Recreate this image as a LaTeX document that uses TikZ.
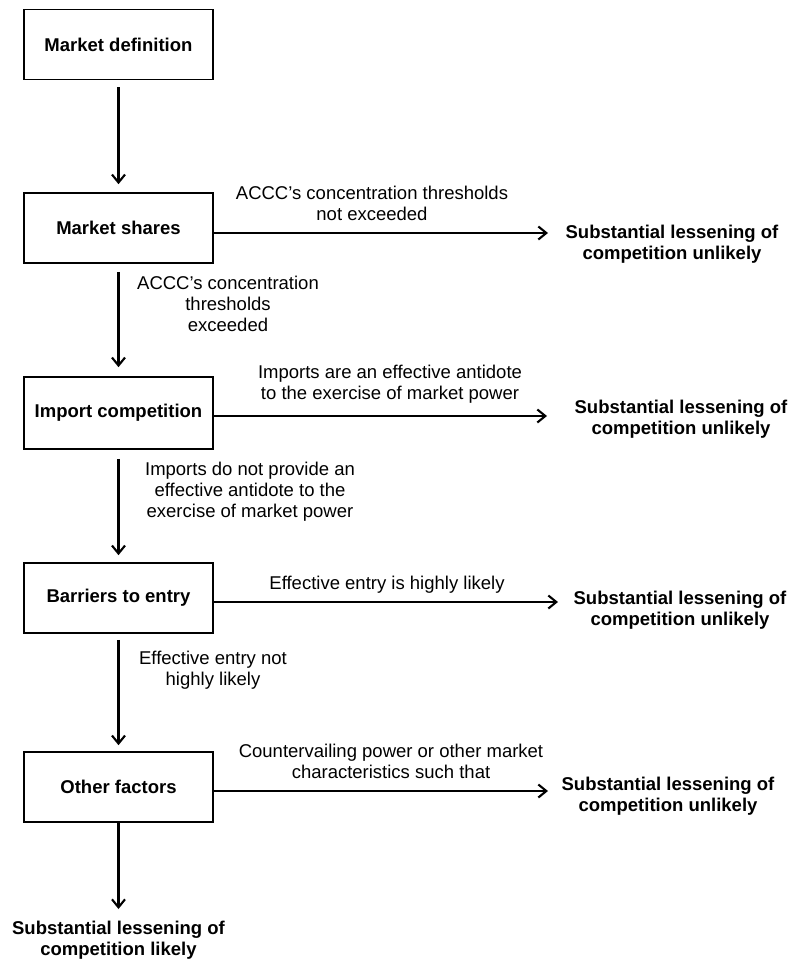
\documentclass[tikz,border=0pt]{standalone}
\usepackage{fontspec}
\setmainfont{Liberation Sans}
\usetikzlibrary{arrows.meta}
\begin{document}
\begin{tikzpicture}[x=1pt,y=-1pt,
  every node/.style={font=\fontsize{18.5}{21}\selectfont, inner sep=0pt},
  stepbox/.style={draw, line width=1.6pt, minimum width=189pt, minimum height=70pt, font=\fontsize{18.5}{21}\selectfont\bfseries},
  result/.style={align=center, font=\fontsize{18.5}{21}\selectfont\bfseries},
  lbl/.style={align=center},
  arr/.style={line width=2.1pt, -{Straight Barb[length=8pt,width=13pt,line width=2.1pt]}}
]
\useasboundingbox (0,0) rectangle (796,963);
% boxes
\node[stepbox] (B1) at (118.5,44.5) {Market definition};
\node[stepbox] (B2) at (118.5,228) {Market shares};
\node[stepbox, minimum height=72pt] (B3) at (118.5,413) {Import competition};
\node[stepbox] (B4) at (118.5,598) {Barriers to entry};
\node[stepbox] (B5) at (118.5,787) {Other factors};
% results
\node[result] (R2) at (672,244) {Substantial lessening of\\competition unlikely};
\node[result] (R3) at (681,419) {Substantial lessening of\\competition unlikely};
\node[result] (R4) at (680,610) {Substantial lessening of\\competition unlikely};
\node[result] (R5) at (668,796) {Substantial lessening of\\competition unlikely};
\node[result] (F) at (118.5,940) {Substantial lessening of\\competition likely};
% arrow ends
\coordinate (t2) at (548,233);
\coordinate (t3) at (547,416);
\coordinate (t4) at (558,602);
\coordinate (t5) at (548,791);
\coordinate (t6) at (118.5,909);
% vertical arrows
\draw[arr, shorten <=7pt, shorten >=8pt] (B1.south) -- (B2.north);
\draw[arr, shorten <=8pt, shorten >=9pt] (B2.south) -- (B3.north);
\draw[arr, shorten <=9pt, shorten >=7pt] (B3.south) -- (B4.north);
\draw[arr, shorten <=6pt, shorten >=6pt] (B4.south) -- (B5.north);
\draw[arr] (B5.south) -- (t6);
% horizontal arrows
\draw[arr] (B2.east |- t2) -- (t2);
\draw[arr] (B3.east |- t3) -- (t3);
\draw[arr] (B4.east |- t4) -- (t4);
\draw[arr] (B5.east |- t5) -- (t5);
% labels on horizontal arrows
\node[lbl] (H2) at (372,203) {ACCC's concentration thresholds\\not exceeded};
\node[lbl] (H3) at (390,384) {Imports are an effective antidote\\to the exercise of market power};
\node[lbl] (H4) at (387,585) {Effective entry is highly likely};
\node[lbl] (H5) at (391,761) {Countervailing power or other market\\characteristics such that};
% labels on vertical arrows
\node[lbl] (L1) at (228,304) {ACCC's concentration\\thresholds\\exceeded};
\node[lbl] (L2) at (250,492) {Imports do not provide an\\effective antidote to the\\exercise of market power};
\node[lbl] (L3) at (213,670) {Effective entry not\\highly likely};
\end{tikzpicture}
\end{document}
